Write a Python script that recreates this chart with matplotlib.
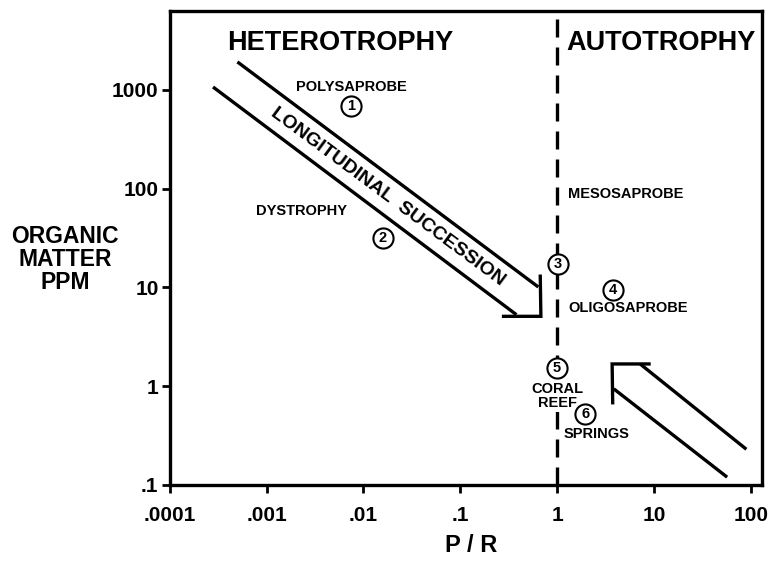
import matplotlib
matplotlib.use("Agg")
import matplotlib.pyplot as plt

plt.rcParams['font.family'] = ['Liberation Sans', 'DejaVu Sans']
plt.rcParams['font.weight'] = 'bold'

# Achsen / ticks
x_ticks = [1e-4, 1e-3, 1e-2, 1e-1, 1, 10, 100]
x_labels = ['.0001', '.001', '.01', '.1', '1', '10', '100']
y_ticks = [0.1, 1, 10, 100, 1000]
y_labels = ['.1', '1', '10', '100', '1000']
x_lim = (1e-4, 130)
y_lim = (0.1, 6300)

# freccia "longitudinal succession" (P/R, ppm)
succ_upper_x = [5.0e-4, 0.64]
succ_upper_y = [1920, 10.1]
succ_lower_x = [2.8e-4, 0.38]
succ_lower_y = [1070, 5.3]
succ_head_x = [0.28, 0.68, 0.67]
succ_head_y = [5.1, 5.1, 13.0]

# freccia in basso a destra
ret_upper_x = [90, 7.2]
ret_upper_y = [0.23, 1.68]
ret_lower_x = [57, 3.85]
ret_lower_y = [0.12, 0.94]
ret_head_x = [8.9, 3.7, 3.75]
ret_head_y = [1.68, 1.68, 0.68]

# punti numerati
site_num = ['1', '2', '3', '4', '5', '6']
site_x = [0.0075, 0.0158, 1.02, 3.75, 1.0, 1.95]
site_y = [680, 32, 17.3, 9.4, 1.53, 0.52]

fig = plt.figure(figsize=(7.75, 5.61), dpi=100)
ax = fig.add_axes([0.219, 0.1355, 0.764, 0.845])
ax.set_xscale('log')
ax.set_yscale('log')
ax.set_xlim(*x_lim)
ax.set_ylim(*y_lim)

for s in ax.spines.values():
    s.set_linewidth(2.4)

ax.set_xticks(x_ticks)
ax.set_xticklabels(x_labels)
ax.set_yticks(y_ticks)
ax.set_yticklabels(y_labels)
ax.minorticks_off()
ax.tick_params(direction='out', length=6, width=2, labelsize=15)
ax.tick_params(axis='x', pad=9)
ax.tick_params(axis='y', pad=2)
for lab in ax.get_xticklabels() + ax.get_yticklabels():
    lab.set_fontweight('bold')

fig.text(0.608, 0.027, 'P / R', ha='center', va='center', fontsize=17, fontweight='bold')
fig.text(0.084, 0.537, 'ORGANIC\nMATTER\nPPM', ha='center', va='center',
         fontsize=16.5, fontweight='bold', linespacing=1.0)

# linea P/R = 1
ax.axvline(1, color='black', lw=2.4, dashes=(5.4, 3.0), zorder=1)

lw = 2.4
ax.plot(succ_upper_x, succ_upper_y, color='black', lw=lw, solid_capstyle='butt')
ax.plot(succ_lower_x, succ_lower_y, color='black', lw=lw, solid_capstyle='butt')
ax.plot(succ_head_x, succ_head_y, color='black', lw=lw, solid_joinstyle='miter')
ax.plot(ret_upper_x, ret_upper_y, color='black', lw=lw, solid_capstyle='butt')
ax.plot(ret_lower_x, ret_lower_y, color='black', lw=lw, solid_capstyle='butt')
ax.plot(ret_head_x, ret_head_y, color='black', lw=lw, solid_joinstyle='miter')

ax.plot(site_x, site_y, 'o', ms=14.5, mfc='white', mec='black', mew=1.5, ls='none', zorder=3)
for n, x, y in zip(site_num, site_x, site_y):
    ax.text(x, y, n, ha='center', va='center', fontsize=10.5, fontweight='bold', zorder=4)

ax.text(0.0057, 3000, 'HETEROTROPHY', ha='center', va='center', fontsize=19.5, fontweight='bold')
ax.text(11.9, 3000, 'AUTOTROPHY', ha='center', va='center', fontsize=19.5, fontweight='bold')
ax.text(0.0075, 1070, 'POLYSAPROBE', ha='center', va='center', fontsize=10.5)
ax.text(0.0023, 60, 'DYSTROPHY', ha='center', va='center', fontsize=10.5)
ax.text(1.3, 88, 'MESOSAPROBE', ha='left', va='center', fontsize=10.5)
ax.text(1.3, 6.2, 'OLIGOSAPROBE', ha='left', va='center', fontsize=10.5)
ax.text(1.0, 0.8, 'CORAL\nREEF', ha='center', va='center', fontsize=10.5, linespacing=0.95,
        zorder=2, bbox=dict(facecolor='white', edgecolor='none', pad=2))
ax.text(1.18, 0.33, 'SPRINGS', ha='left', va='center', fontsize=10.5)
ax.text(0.0178, 83, 'LONGITUDINAL  SUCCESSION', ha='center', va='center',
        fontsize=14, fontweight='bold', rotation=-36.6, rotation_mode='anchor')

fig.savefig('out.png', dpi=100)
